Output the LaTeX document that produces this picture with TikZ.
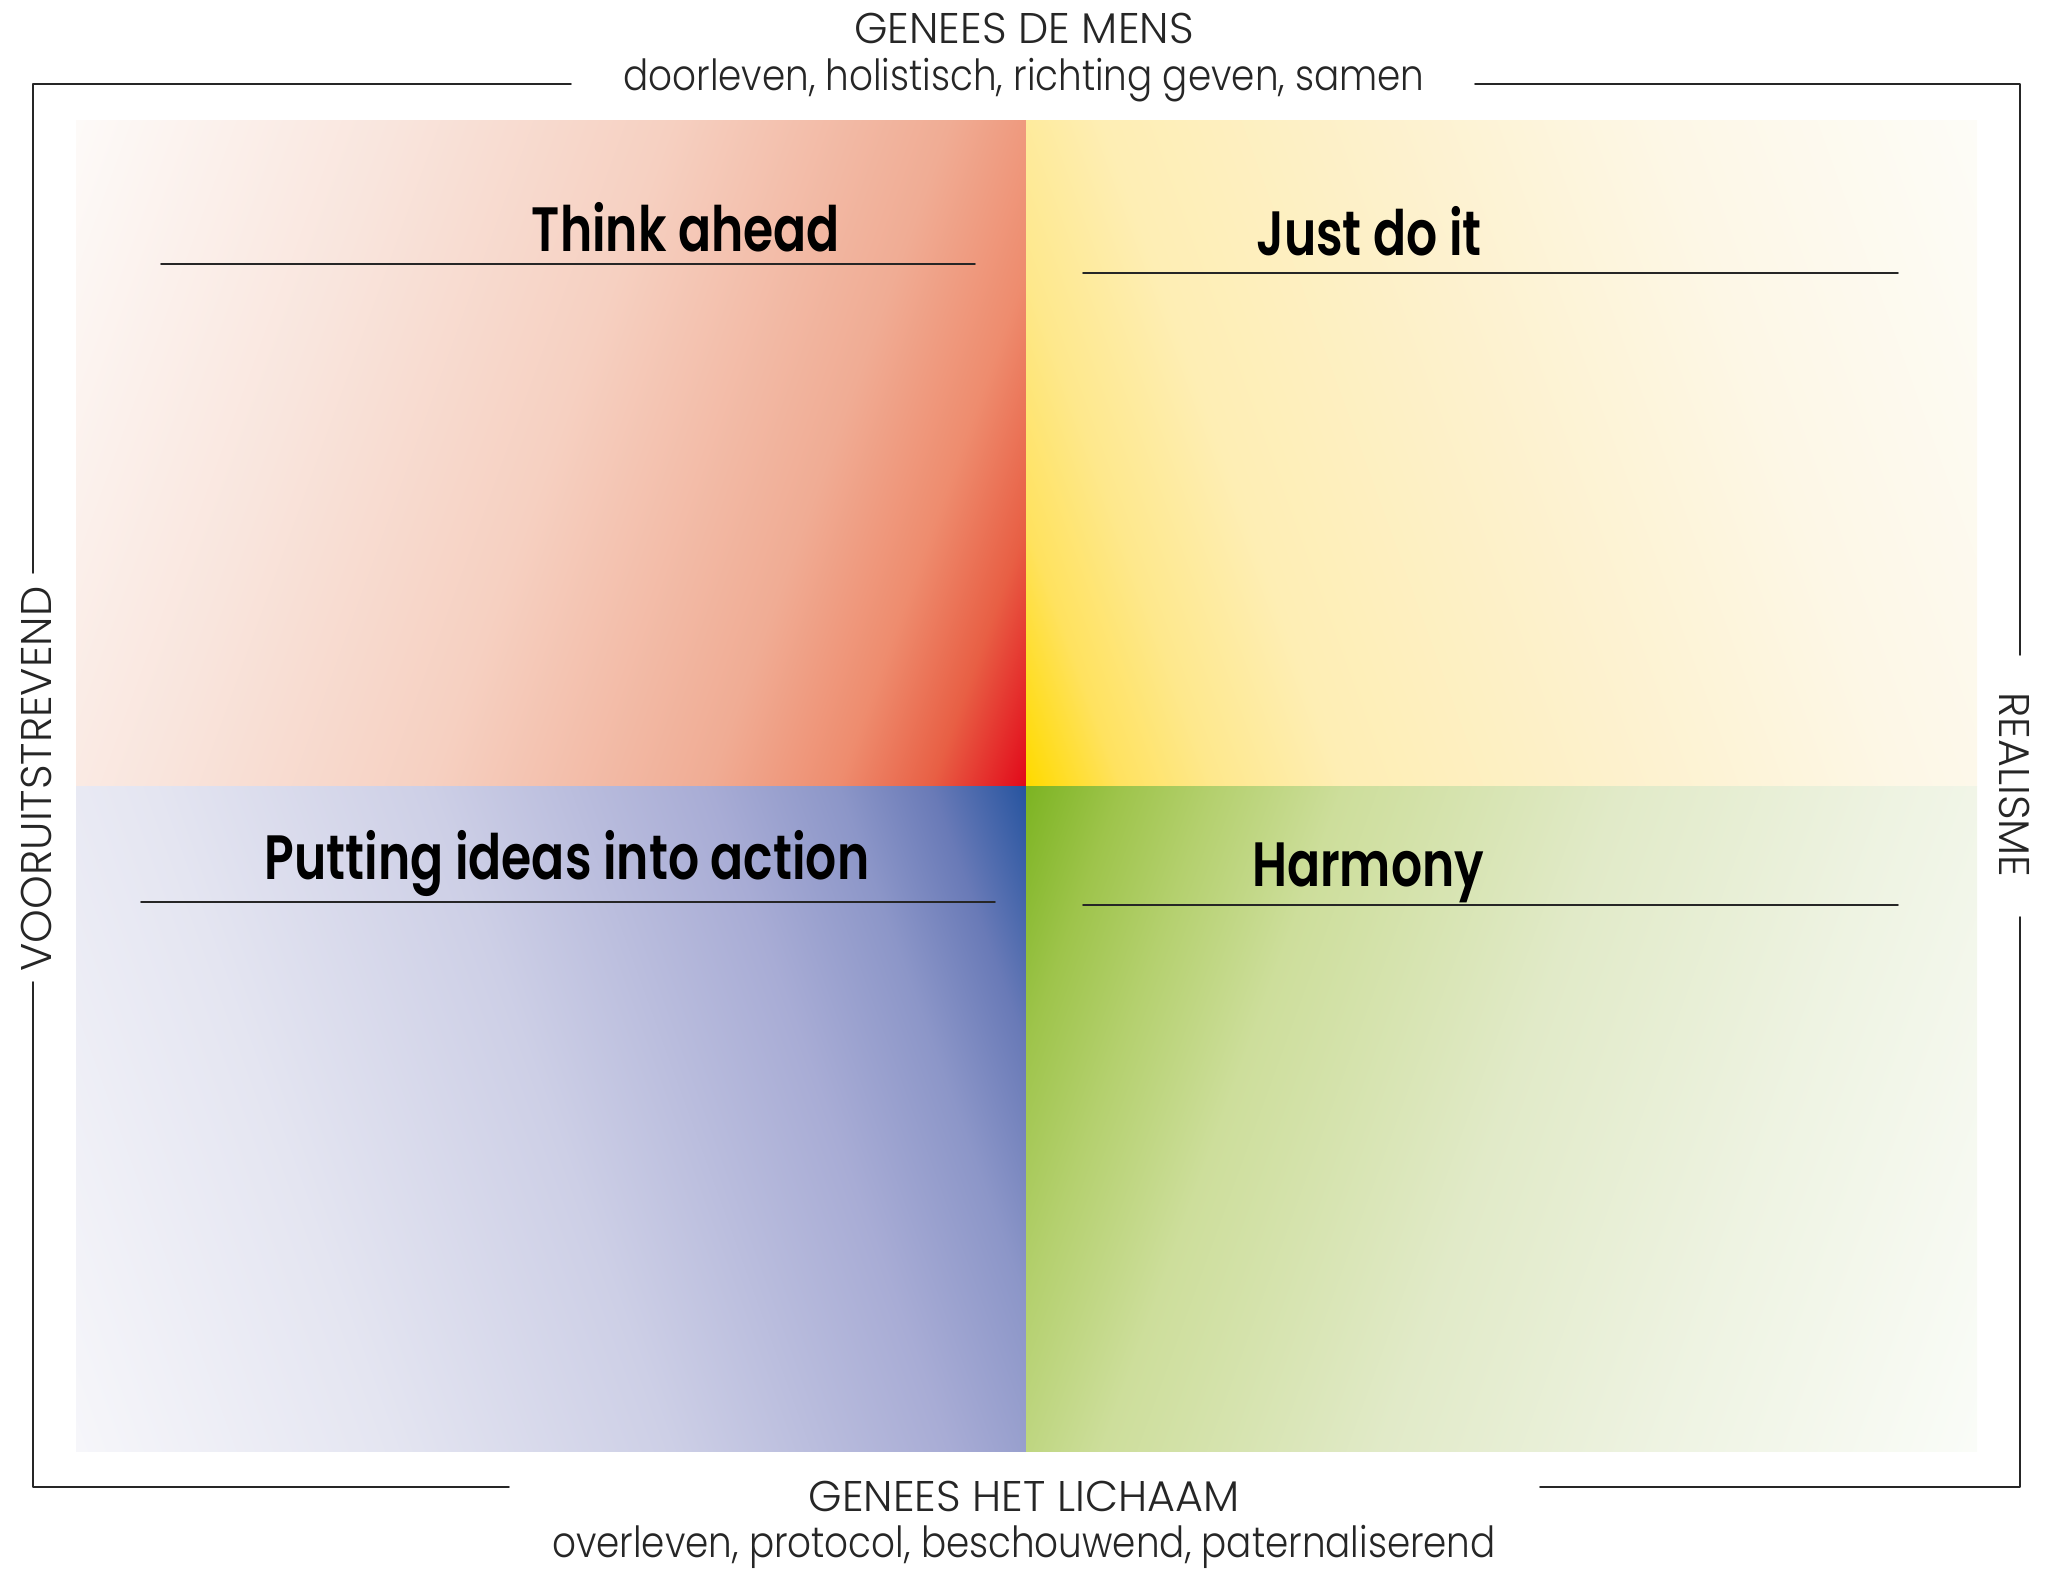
\documentclass[tikz,border=0pt]{standalone}
\usepackage{fontspec}
\setmainfont{Poppins Light}
\newfontfamily\smalfont{Poppins Light}[FakeStretch=0.87]
\newfontfamily\kopfont{Poppins SemiBold}[FakeStretch=0.78]

% kleuren per kwadrant
\definecolor{rood0}{RGB}{253,250,248}\definecolor{rood1}{RGB}{249,229,221}
\definecolor{rood2}{RGB}{246,208,193}\definecolor{rood3}{RGB}{240,172,148}
\definecolor{rood4}{RGB}{238,140,110}\definecolor{rood5}{RGB}{232,95,68}
\definecolor{rood6}{RGB}{226,10,26}
\definecolor{geel0}{RGB}{253,252,247}\definecolor{geel1}{RGB}{253,247,230}
\definecolor{geel2}{RGB}{253,241,205}\definecolor{geel3}{RGB}{254,238,180}
\definecolor{geel4}{RGB}{254,232,140}\definecolor{geel5}{RGB}{255,226,95}
\definecolor{geel6}{RGB}{255,218,0}
\definecolor{blauw0}{RGB}{246,246,250}\definecolor{blauw1}{RGB}{228,229,241}
\definecolor{blauw2}{RGB}{205,207,230}\definecolor{blauw3}{RGB}{168,172,213}
\definecolor{blauw4}{RGB}{140,150,200}\definecolor{blauw5}{RGB}{105,122,183}
\definecolor{blauw6}{RGB}{40,85,160}
\definecolor{groen0}{RGB}{250,252,248}\definecolor{groen1}{RGB}{238,243,226}
\definecolor{groen2}{RGB}{225,234,200}\definecolor{groen3}{RGB}{205,222,155}
\definecolor{groen4}{RGB}{180,208,110}\definecolor{groen5}{RGB}{158,196,75}
\definecolor{groen6}{RGB}{125,180,35}

\pgfdeclarehorizontalshading{roodverloop}{100bp}{color(0bp)=(rood0); color(18bp)=(rood0); color(35bp)=(rood1); color(50bp)=(rood2); color(65bp)=(rood3); color(72bp)=(rood4); color(77bp)=(rood5); color(82bp)=(rood6); color(100bp)=(rood6)}
\pgfdeclarehorizontalshading{geelverloop}{100bp}{color(0bp)=(geel0); color(18bp)=(geel0); color(35bp)=(geel1); color(50bp)=(geel2); color(65bp)=(geel3); color(72bp)=(geel4); color(77bp)=(geel5); color(82bp)=(geel6); color(100bp)=(geel6)}
\pgfdeclarehorizontalshading{blauwverloop}{100bp}{color(0bp)=(blauw0); color(18bp)=(blauw0); color(35bp)=(blauw1); color(50bp)=(blauw2); color(65bp)=(blauw3); color(72bp)=(blauw4); color(77bp)=(blauw5); color(82bp)=(blauw6); color(100bp)=(blauw6)}
\pgfdeclarehorizontalshading{groenverloop}{100bp}{color(0bp)=(groen0); color(18bp)=(groen0); color(35bp)=(groen1); color(50bp)=(groen2); color(65bp)=(groen3); color(72bp)=(groen4); color(77bp)=(groen5); color(82bp)=(groen6); color(100bp)=(groen6)}

\begin{document}
\begin{tikzpicture}[x=0.01cm,y=-0.01cm,line join=round,line cap=round,
  kwadtitel/.style={font=\kopfont\fontsize{17.8}{20}\selectfont,anchor=base,inner sep=0pt},
  aslabel/.style={font=\fontsize{12.2}{14}\selectfont,text=black!85,anchor=base,inner sep=0pt},
  asregel/.style={aslabel,font=\smalfont\fontsize{12.2}{14}\selectfont},
  zijlabel/.style={font=\fontsize{12.2}{14}\selectfont,text=black!85,inner sep=0pt},
  streep/.style={line width=.45pt,draw=black!85}]
\useasboundingbox (0,0) rectangle (2050,1568);

% de vier kwadranten
	\shade[shading=roodverloop,shading angle=-20] (76,120) rectangle (1026,786);
	\shade[shading=geelverloop,shading angle=200] (1026,120) rectangle (1977,786);
	\shade[shading=blauwverloop,shading angle=20] (76,786) rectangle (1026,1451);
	\shade[shading=groenverloop,shading angle=160] (1026,786) rectangle (1977,1451);

% assen
	\node[aslabel] (mens) at (1024,43) {GENEES DE MENS};
	\node[asregel] (mensb) at (1024,90) {doorleven, holistisch, richting geven, samen};
	\node[aslabel] (lichaam) at (1024,1511) {GENEES HET LICHAAM};
	\node[asregel] (lichaamb) at (1024,1557) {overleven, protocol, beschouwend, paternaliserend};
	\node[zijlabel,rotate=90] (vooruit) at (36,779) {VOORUITSTREVEND};
	\node[zijlabel,rotate=-90] (realisme) at (2015,785) {REALISME};

% kader
	\coordinate (kLB) at (33,84);
	\coordinate (kRB) at (2020,84);
	\coordinate (kRO) at (2020,1487);
	\coordinate (kLO) at (33,1487);
	\draw[streep] (33,573)--(kLB)--(571,84);
	\draw[streep] (1475,84)--(kRB)--(2020,655);
	\draw[streep] (2020,917)--(kRO)--(1540,1487);
	\draw[streep] (509,1487)--(kLO)--(33,982);

% titels met streep
	\node[kwadtitel] (denk) at (686,251) {Think ahead};
	\node[kwadtitel] (doe) at (1369,255) {Just do it};
	\node[kwadtitel] (actie) at (567,879) {Putting ideas into action};
	\node[kwadtitel] (harmonie) at (1368,886) {Harmony};
	\coordinate (denkA) at (161,264);\coordinate (denkB) at (975,264);
	\coordinate (doeA) at (1083,273);\coordinate (doeB) at (1898,273);
	\coordinate (actieA) at (141,902);\coordinate (actieB) at (995,902);
	\coordinate (harmA) at (1083,905);\coordinate (harmB) at (1898,905);
	\draw[streep] (denkA)--(denkB);
	\draw[streep] (doeA)--(doeB);
	\draw[streep] (actieA)--(actieB);
	\draw[streep] (harmA)--(harmB);
\end{tikzpicture}
\end{document}
